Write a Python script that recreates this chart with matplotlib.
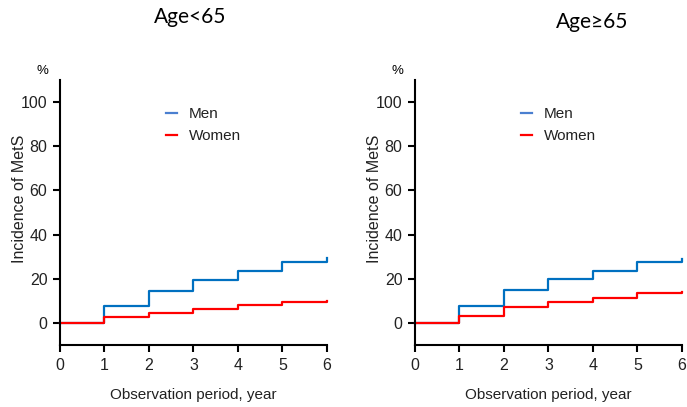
import matplotlib
matplotlib.use("Agg")
import matplotlib.pyplot as plt

years = [0, 1, 2, 3, 4, 5, 6, 6]

# Age<65
men_young = [0, 7.5, 14.5, 19.5, 23.5, 27.5, 27.5, 29.5]
women_young = [0, 2.5, 4.5, 6.5, 8, 9.5, 9.5, 10]
# Age>=65
men_old = [0, 7.5, 15, 20, 23.5, 27.5, 27.5, 29]
women_old = [0, 3, 7, 9.5, 11.5, 13.5, 13.5, 14]

titles = ["Age<65", "Age\u226565"]
xticks = [0, 1, 2, 3, 4, 5, 6]
yticks = [0, 20, 40, 60, 80, 100]

plt.rcParams['font.family'] = ['Liberation Sans', 'DejaVu Sans']

fig = plt.figure(figsize=(6.87, 4.07), dpi=100)
ax1 = fig.add_axes([0.0873, 0.1523, 0.3886, 0.6511])
ax2 = fig.add_axes([0.604, 0.1523, 0.3886, 0.6511])

data = [(ax1, men_young, women_young), (ax2, men_old, women_old)]
for ax, men, women in data:
    ax.step(years, men, where='post', color='#0070C0', lw=1.6, label='Men', clip_on=False)
    ax.step(years, women, where='post', color='#FF0000', lw=1.6, label='Women', clip_on=False)
    ax.set_xlim(0, 6)
    ax.set_ylim(-10, 110)
    ax.set_xticks(xticks)
    ax.set_yticks(yticks)
    ax.spines['top'].set_visible(False)
    ax.spines['right'].set_visible(False)
    ax.spines['left'].set_linewidth(1.5)
    ax.spines['bottom'].set_linewidth(1.5)
    ax.tick_params(width=1.5, length=5, labelsize=11.5, direction='out', pad=4,
                   labelcolor='#222222')
    ax.set_xlabel('Observation period, year', fontsize=11, labelpad=11, color='#222222')
    ax.set_ylabel('Incidence of MetS', fontsize=11.5, color='#222222')
    ax.yaxis.set_label_coords(-0.124, 0.553)
    ax.text(-0.4, 114, '%', fontsize=9.5, ha='center', va='center', clip_on=False)
    leg = ax.legend(loc='upper left', bbox_to_anchor=(0.345, 0.95), frameon=False,
                    fontsize=11, handlelength=0.75, handletextpad=0.75, labelspacing=0.55,
                    labelcolor='#222222')
    leg.get_lines()[0].set_color('#4A7FD0')

fig.text(190 / 687, 1 - 17 / 407, titles[0], fontsize=15, ha='center', va='center',
         family=['Lato', 'DejaVu Sans'])
fig.text(592 / 687, 1 - 22 / 407, titles[1], fontsize=15, ha='center', va='center',
         family=['Lato', 'DejaVu Sans'])

fig.savefig('out.png', dpi=100)
